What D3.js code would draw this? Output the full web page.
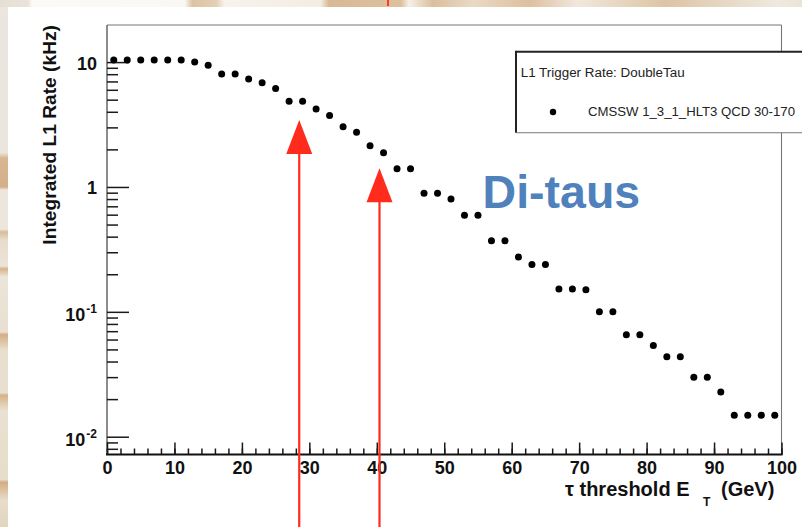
<!DOCTYPE html>
<html>
<head>
<meta charset="utf-8">
<script src="https://cdn.jsdelivr.net/npm/d3@7"></script>
<style>
  html, body { margin: 0; padding: 0; background: #fff; }
  svg { display: block; }
  text { font-family: "Liberation Sans", Arial, Helvetica, sans-serif; }
</style>
</head>
<body>
<svg id="chart" width="802" height="527"></svg>
<script>
// L1 DoubleTau trigger: integrated rate (kHz) above each tau E_T threshold (GeV)
const thresholdGeV = [
   1,  3,  5,  7,  9, 11, 13, 15, 17, 19,
  21, 23, 25, 27, 29, 31, 33, 35, 37, 39,
  41, 43, 45, 47, 49, 51, 53, 55, 57, 59,
  61, 63, 65, 67, 69, 71, 73, 75, 77, 79,
  81, 83, 85, 87, 89, 91, 93, 95, 97, 99
];
const rateKHz = [
  10.5, 10.5, 10.5, 10.5, 10.5, 10.5, 10.1, 9.5, 8.1, 8.1,
  7.4, 6.9, 6.2, 4.9, 4.9, 4.25, 3.77, 3.07, 2.77, 2.16,
  1.90, 1.41, 1.41, 0.90, 0.90, 0.81, 0.60, 0.60, 0.374, 0.374,
  0.277, 0.242, 0.242, 0.1535, 0.1535, 0.152, 0.101, 0.101, 0.066, 0.066,
  0.0543, 0.044, 0.044, 0.0302, 0.0302, 0.023, 0.015, 0.015, 0.015, 0.015
];

// axis labelling
const xTickValues = [0, 10, 20, 30, 40, 50, 60, 70, 80, 90, 100];
const yTickValues = [10, 1, 0.1, 0.01];
const yTickBase   = ["10", "1", "10", "10"];
const yTickExp    = ["", "", "-1", "-2"];

// highlighted thresholds (arrows) and where their heads point
const arrowThresholds = [28.5, 40.4];
const arrowTipRates   = [3.47, 1.425];

const legendTitle = "L1 Trigger Rate: DoubleTau";
const seriesName  = "CMSSW 1_3_1_HLT3 QCD 30-170";
const overlayLabel = "Di-taus";

const svg = d3.select("#chart");
const defs = svg.append("defs");

// slide backdrop: parchment strips along the left and top edges
const leftGrad = defs.append("linearGradient").attr("id", "leftStrip")
  .attr("x1", 0).attr("y1", 0).attr("x2", 0).attr("y2", 1);
[[0,"#ebe7e0"],[0.29,"#e9e4dc"],[0.30,"#d8b690"],[0.355,"#d4b08a"],[0.36,"#ece6dc"],
 [0.435,"#ece6dc"],[0.44,"#d9bd9c"],[0.455,"#e7dccb"],[0.505,"#ebe4d8"],[0.51,"#d6b48c"],
 [0.525,"#ebe4d8"],[0.63,"#e8e0d2"],[0.635,"#d4ae84"],[0.665,"#e9dfcf"],[0.745,"#e8dfd0"],
 [0.75,"#d6b389"],[0.78,"#eae1d2"],[0.91,"#e6dccb"],[0.915,"#d3ad82"],[0.95,"#e8ddcb"],[1,"#e2d5c0"]]
  .forEach(s => leftGrad.append("stop").attr("offset", s[0]).attr("stop-color", s[1]));

const topGrad = defs.append("linearGradient").attr("id", "topStrip")
  .attr("x1", 0).attr("y1", 0).attr("x2", 1).attr("y2", 0);
[[0,"#e6dfd4"],[0.035,"#e9e3da"],[0.04,"#fbfaf7"],[0.23,"#faf8f4"],[0.24,"#dcc3a2"],
 [0.27,"#e3cfb5"],[0.28,"#f7f3ec"],[0.40,"#f3ece2"],[0.41,"#d8b996"],[0.5,"#dcc1a0"],
 [0.51,"#f5f0e8"],[0.54,"#dbbf9c"],[0.59,"#e9dac6"],[0.66,"#dcc09f"],[0.72,"#f1e8dc"],
 [0.83,"#dcc4a5"],[0.92,"#e8dccb"],[0.97,"#f0e9df"],[1,"#ebe3d6"]]
  .forEach(s => topGrad.append("stop").attr("offset", s[0]).attr("stop-color", s[1]));

svg.append("rect").attr("x", 0).attr("y", 0).attr("width", 802).attr("height", 527)
  .attr("fill", "url(#leftStrip)");
svg.append("rect").attr("x", 0).attr("y", 0).attr("width", 802).attr("height", 7)
  .attr("fill", "url(#topStrip)");
svg.append("rect").attr("x", 387).attr("y", 0).attr("width", 2).attr("height", 6)
  .attr("fill", "#ff3b22");
svg.append("rect").attr("x", 8).attr("y", 7).attr("width", 794).attr("height", 520)
  .attr("fill", "#ffffff");

// scales
const x = d3.scaleLinear().domain([0, 100]).range([107, 781.5]);
const y = d3.scaleLog().domain([0.00727, 20]).range([454.5, 25]);

// frame
const frame = svg.append("g");
frame.append("line").attr("x1", x(0)).attr("x2", x(100)).attr("y1", y(20)).attr("y2", y(20))
  .attr("stroke", "#777").attr("stroke-width", 1.1);
frame.append("line").attr("x1", x(100)).attr("x2", x(100)).attr("y1", y(20)).attr("y2", y(0.00727))
  .attr("stroke", "#777").attr("stroke-width", 1.1);
frame.append("line").attr("x1", x(0)).attr("x2", x(0)).attr("y1", y(20)).attr("y2", y(0.00727))
  .attr("stroke", "#666").attr("stroke-width", 1.5);

// x axis: minor every 2 GeV, major every 10 GeV, ticks pointing inward
const xMinor = svg.append("g").attr("transform", `translate(0,${y(0.00727)})`)
  .call(d3.axisBottom(x).tickValues(d3.range(0, 101, 2)).tickSize(-6).tickFormat(""));
const xMajor = svg.append("g").attr("transform", `translate(0,${y(0.00727)})`)
  .call(d3.axisBottom(x).tickValues(xTickValues).tickSize(-12).tickPadding(6.7).tickFormat(d3.format("d")));
[xMinor, xMajor].forEach(g => {
  g.select(".domain").remove();
  g.selectAll(".tick line").attr("stroke", "#1a1a1a").attr("stroke-width", 1.5);
});
xMajor.selectAll(".tick text")
  .attr("fill", "#111").style("font-size", "18px").style("font-weight", "bold")
  .style("font-family", "'Liberation Sans', Arial, Helvetica, sans-serif");
svg.append("line").attr("x1", x(0) - 1).attr("x2", x(100) + 1)
  .attr("y1", y(0.00727)).attr("y2", y(0.00727))
  .attr("stroke", "#111").attr("stroke-width", 2);

// y axis (log): decades long, sub-decades short, ticks pointing inward
const yTicks = y.ticks().filter(v => v < 19);
svg.append("g").selectAll("line").data(yTicks).join("line")
  .attr("x1", x(0))
  .attr("x2", v => x(0) + (Math.abs(Math.log10(v) - Math.round(Math.log10(v))) < 1e-6 ? 22 : 11))
  .attr("y1", v => y(v)).attr("y2", v => y(v))
  .attr("stroke", "#1a1a1a").attr("stroke-width", 1.5);

const yLab = svg.append("g").selectAll("text").data(yTickValues).join("text")
  .attr("x", 97)
  .attr("y", (v, i) => y(v) + (yTickExp[i] ? 8.5 : 7))
  .attr("text-anchor", "end")
  .attr("fill", "#111")
  .style("font-size", "18px").style("font-weight", "bold");
yLab.append("tspan").text((v, i) => yTickBase[i]);
yLab.filter((v, i) => yTickExp[i] !== "")
  .append("tspan").attr("dy", -8).attr("dx", 1).style("font-size", "12px")
  .text((v) => yTickExp[yTickValues.indexOf(v)]);

// axis titles
svg.append("text")
  .attr("transform", "translate(55.5,25) rotate(-90)")
  .attr("text-anchor", "end").attr("fill", "#111")
  .style("font-size", "19.2px").style("font-weight", "bold")
  .text("Integrated L1 Rate (kHz)");

const xt = svg.append("text").attr("x", 565).attr("y", 496).attr("fill", "#111")
  .style("font-size", "20px").style("font-weight", "bold");
xt.append("tspan").text("\u03c4 threshold E");
xt.append("tspan").attr("x", 703).attr("dy", 9.5).style("font-size", "12px").text("T");
xt.append("tspan").attr("x", 721).attr("dy", -9.5).text("(GeV)");

// data points
svg.append("g").selectAll("circle").data(thresholdGeV).join("circle")
  .attr("cx", d => x(d))
  .attr("cy", (d, i) => y(rateKHz[i]))
  .attr("r", 3.5)
  .attr("fill", "#000");

// legend box (runs past the right edge)
const lg = svg.append("g");
lg.append("rect").attr("x", 516).attr("y", 51.7).attr("width", 300).attr("height", 81)
  .attr("fill", "#fff");
lg.append("line").attr("x1", 516).attr("x2", 802).attr("y1", 51.7).attr("y2", 51.7)
  .attr("stroke", "#222").attr("stroke-width", 2);
lg.append("line").attr("x1", 516).attr("x2", 516).attr("y1", 50.7).attr("y2", 132.7)
  .attr("stroke", "#222").attr("stroke-width", 2);
lg.append("line").attr("x1", 516).attr("x2", 802).attr("y1", 132.7).attr("y2", 132.7)
  .attr("stroke", "#777").attr("stroke-width", 1.1);
lg.append("text").attr("x", 520.7).attr("y", 76.7).attr("fill", "#222")
  .attr("textLength", 164).attr("lengthAdjust", "spacingAndGlyphs")
  .style("font-size", "12px").text(legendTitle);
lg.append("circle").attr("cx", 553).attr("cy", 112).attr("r", 3.2).attr("fill", "#000");
lg.append("text").attr("x", 588).attr("y", 116).attr("fill", "#222")
  .attr("textLength", 207).attr("lengthAdjust", "spacingAndGlyphs")
  .style("font-size", "12px").text(seriesName);

// overlay label
svg.append("text").attr("x", 482.6).attr("y", 208.3).attr("fill", "#4f81bd")
  .style("font-size", "46.5px").style("font-weight", "bold").text(overlayLabel);

// threshold arrows
const arrows = svg.append("g").selectAll("g").data(arrowThresholds).join("g");
arrows.append("line")
  .attr("x1", d => x(d)).attr("x2", d => x(d))
  .attr("y1", (d, i) => y(arrowTipRates[i]) + 30).attr("y2", 530)
  .attr("stroke", "#ff2b1c").attr("stroke-width", 2.2);
arrows.append("path")
  .attr("d", (d, i) => {
    const cx = x(d), ty = y(arrowTipRates[i]);
    return `M${cx},${ty} L${cx - 13},${ty + 34} L${cx + 13},${ty + 34} Z`;
  })
  .attr("fill", "#ff2b1c");
</script>
</body>
</html>
